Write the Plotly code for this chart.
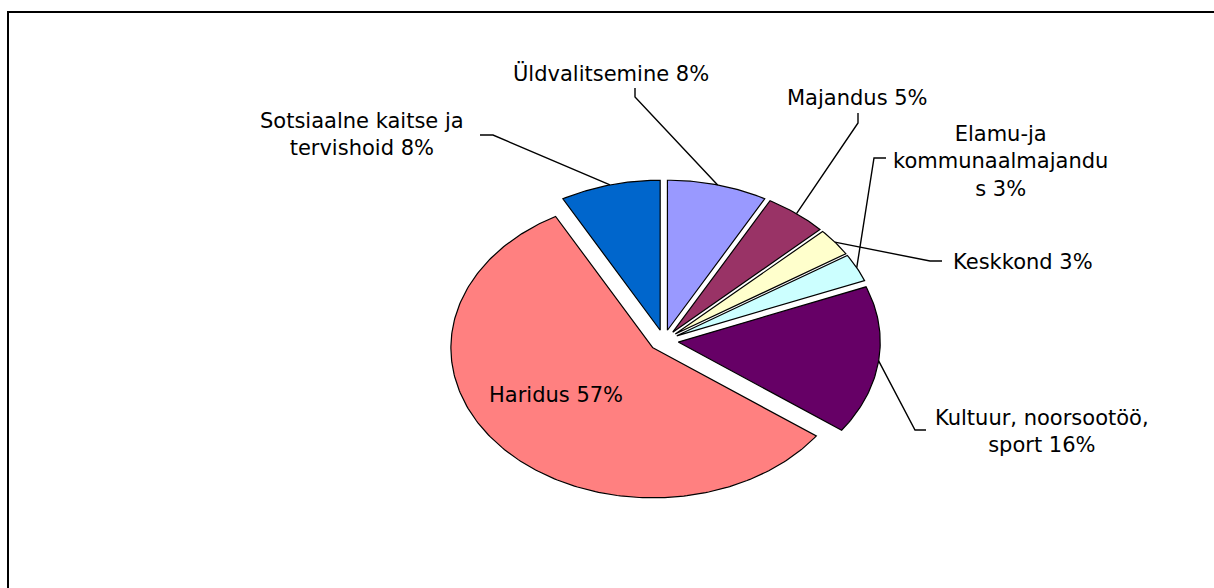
import numpy as np
import plotly.graph_objects as go

# ---- data ----
categories = ["Üldvalitsemine", "Majandus", "Keskkond",
              "Elamu-ja kommunaalmajandus", "Kultuur, noorsootöö, sport",
              "Haridus", "Sotsiaalne kaitse ja tervishoid"]
display_names = ["Üldvalitsemine", "Majandus", "Keskkond",
                 "Elamu-ja<br>kommunaalmajandu<br>s", "Kultuur, noorsootöö,<br>sport",
                 "Haridus", "Sotsiaalne kaitse ja<br>tervishoid"]
values = [8, 5, 3, 3, 16, 57, 8]
colors = ["#9999FF", "#993366", "#FFFFCC", "#CCFFFF", "#660066", "#FF8080", "#0066CC"]

# ---- layout / geometry (pixel-like coordinate system) ----
W, H = 1214, 588
CX, CY = 663.8, 340.7
RX, RY = 202.0, 150.0
EXPLODE = 0.072

# label placement: (x, y) centre of text, and leader path points after the rim point
label_pos = [(611, 73), (857, 98), (1023, 262), (1000, 161), (1042, 431), (556, 395), (362, 134)]
leaders = [
    [(635, 97), (635, 88)],
    [(858, 123), (858, 113)],
    [(930, 261), (942, 261)],
    [(874, 158), (886, 158)],
    [(915, 430), (926, 430)],
    None,
    [(493, 135), (480, 135)],
]

fig = go.Figure()

total = float(sum(values))
start = 0.0
for i, v in enumerate(values):
    a0 = start / total * 2 * np.pi
    a1 = (start + v) / total * 2 * np.pi
    start += v
    am = (a0 + a1) / 2
    vx = CX + EXPLODE * RX * np.sin(am)
    vy = CY - EXPLODE * RY * np.cos(am)
    t = np.linspace(a0, a1, max(8, int(v * 4)))
    xs = np.concatenate([[vx], vx + RX * np.sin(t), [vx]])
    ys = np.concatenate([[vy], vy - RY * np.cos(t), [vy]])
    fig.add_trace(go.Scatter(
        x=xs, y=ys, mode="lines", fill="toself", fillcolor=colors[i],
        line=dict(color="black", width=1.2), hoverinfo="text",
        text=f"{categories[i]} {v}%", showlegend=False))
    # leader line from rim at mid-angle
    if leaders[i] is not None:
        rx0 = vx + RX * np.sin(am)
        ry0 = vy - RY * np.cos(am)
        lx = [rx0] + [p[0] for p in leaders[i]]
        ly = [ry0] + [p[1] for p in leaders[i]]
        fig.add_trace(go.Scatter(x=lx, y=ly, mode="lines",
                                 line=dict(color="black", width=1.4),
                                 hoverinfo="skip", showlegend=False))
    fig.add_annotation(x=label_pos[i][0], y=label_pos[i][1],
                       text=f"{display_names[i]} {v}%", showarrow=False,
                       xanchor="center", yanchor="middle", align="center",
                       font=dict(family="DejaVu Sans", size=21, color="black"))

# outer frame (top and left edges visible)
fig.add_shape(type="rect", x0=8, y0=12, x1=W + 20, y1=H + 20, xref="x", yref="y",
              line=dict(color="black", width=2), fillcolor="rgba(0,0,0,0)", layer="below")

fig.update_layout(
    width=W, height=H, margin=dict(l=0, r=0, t=0, b=0),
    paper_bgcolor="white", plot_bgcolor="white",
    xaxis=dict(range=[0, W], visible=False, fixedrange=True),
    yaxis=dict(range=[H, 0], visible=False, fixedrange=True),
    showlegend=False,
)

fig.write_html("out.html", config={"displayModeBar": False},
               post_script="document.body.style.margin='0';document.body.style.overflow='hidden';")
